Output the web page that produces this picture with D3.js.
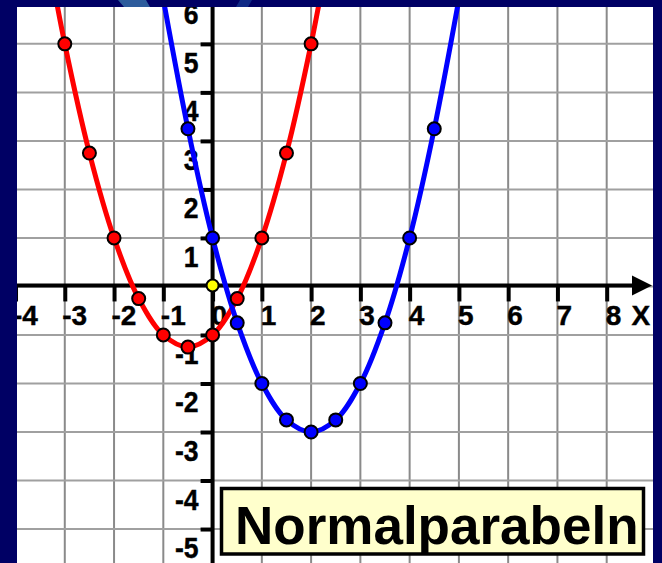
<!DOCTYPE html>
<html>
<head>
<meta charset="utf-8">
<script src="https://cdn.jsdelivr.net/npm/d3@7"></script>
<style>
  html, body { margin: 0; padding: 0; background: #000064; }
  svg { display: block; }
  .lbl { font-family: "Liberation Sans", Arial, sans-serif; font-weight: bold; }
</style>
</head>
<body>
<div id="chart"></div>
<script>
// tick labels
var xTicks = [-4, -3, -2, -1, 0, 1, 2, 3, 4, 5, 6, 7, 8];
var yTicks = [-5, -4, -3, -2, -1, 1, 2, 3, 4, 5, 6];

// red parabola, marked points
var redX = [-3, -2.5, -2, -1.5, -1, -0.5, 0, 0.5, 1, 1.5, 2];
var redY = [5, 2.75, 1, -0.25, -1, -1.25, -1, -0.25, 1, 2.75, 5];
// where the red curve leaves the top edge
var redEndsX = [-3.3, 2.3];
var redEndsY = [6.6, 6.6];

// blue parabola, marked points
var blueX = [-0.5, 0, 0.5, 1, 1.5, 2, 2.5, 3, 3.5, 4, 4.5];
var blueY = [3.25, 1, -0.75, -2, -2.75, -3, -2.75, -2, -0.75, 1, 3.25];
var blueEndsX = [-1.05, 5.05];
var blueEndsY = [6.2, 6.2];

// yellow origin point
var originX = [0];
var originY = [0];

var title = "Normalparabeln";

var width = 662,
    height = 563,
    plot = { left: 17, right: 653, top: 7, bottom: 563 },
    squeeze = 0.9; // y labels are a touch narrower than the font

var x = d3.scaleLinear().domain([-3.97, 8.94]).range([plot.left, plot.right]);
var y = d3.scaleLinear().domain([-5.7, 5.76]).range([plot.bottom, plot.top]);

var svg = d3.select("#chart").append("svg")
    .attr("width", width)
    .attr("height", height);

svg.append("defs").append("clipPath").attr("id", "plotclip")
    .append("rect")
    .attr("x", plot.left).attr("y", plot.top)
    .attr("width", plot.right - plot.left)
    .attr("height", plot.bottom - plot.top);

// navy slide background with a couple of faint streaks in the top band
svg.append("rect").attr("width", width).attr("height", height).attr("fill", "#000064");
svg.append("polygon").attr("points", "118,0 146,0 150,7 124,7").attr("fill", "#2d5c9c");
svg.append("polygon").attr("points", "240,0 252,0 248,7 236,7").attr("fill", "#102a86");

var g = svg.append("g").attr("clip-path", "url(#plotclip)");

g.append("rect")
    .attr("x", plot.left).attr("y", plot.top)
    .attr("width", plot.right - plot.left)
    .attr("height", plot.bottom - plot.top)
    .attr("fill", "#ffffff");

// grid
var gridX = d3.range(-4, 9);
var gridY = d3.range(-6, 7);
g.selectAll(".vgrid").data(gridX).enter().append("line")
    .attr("class", "vgrid")
    .attr("x1", function (d) { return x(d); })
    .attr("x2", function (d) { return x(d); })
    .attr("y1", plot.top).attr("y2", plot.bottom)
    .attr("stroke", "#8a8a8a").attr("stroke-width", 2);
g.selectAll(".hgrid").data(gridY).enter().append("line")
    .attr("class", "hgrid")
    .attr("y1", function (d) { return y(d); })
    .attr("y2", function (d) { return y(d); })
    .attr("x1", plot.left).attr("x2", plot.right)
    .attr("stroke", "#a0a0a0").attr("stroke-width", 2);

// x axis with ticks hanging below
var xAxisG = g.append("g")
    .attr("transform", "translate(0," + (y(0) - 1) + ")")
    .call(d3.axisBottom(x).tickValues(xTicks).tickSize(16).tickFormat(function (d) { return String(d); }));
xAxisG.select(".domain").remove();
xAxisG.selectAll(".tick line").attr("stroke", "#000").attr("stroke-width", 4);
xAxisG.selectAll(".tick text")
    .attr("class", "lbl")
    .attr("x", function (d) { return d < 0 ? -3 : -1.5; })
    .attr("y", 39.5).attr("dy", null)
    .attr("text-anchor", "start")
    .attr("font-size", 28)
    .attr("fill", "#000").attr("stroke", "#000").attr("stroke-width", 0.4);

// y axis with ticks to the left
var yAxisG = g.append("g")
    .attr("transform", "translate(" + x(0) + ",0)")
    .call(d3.axisLeft(y).tickValues(yTicks).tickSize(12).tickFormat(function (d) { return String(d); }));
yAxisG.select(".domain").remove();
yAxisG.selectAll(".tick line").attr("stroke", "#000").attr("stroke-width", 4);
yAxisG.selectAll(".tick text")
    .attr("class", "lbl")
    .attr("x", -14 / squeeze).attr("y", 28.5).attr("dy", null)
    .attr("transform", "scale(" + squeeze + ",1)")
    .attr("text-anchor", "end")
    .attr("font-size", 29.5)
    .attr("fill", "#000").attr("stroke", "#000").attr("stroke-width", 0.4);

// axis lines
g.append("line")
    .attr("x1", x(0)).attr("x2", x(0))
    .attr("y1", plot.top).attr("y2", plot.bottom)
    .attr("stroke", "#000").attr("stroke-width", 4);
g.append("line")
    .attr("x1", plot.left).attr("x2", plot.right - 12)
    .attr("y1", y(0) - 1).attr("y2", y(0) - 1)
    .attr("stroke", "#000").attr("stroke-width", 4);
var ay = y(0) - 1;
g.append("path")
    .attr("d", "M" + (plot.right - 1) + "," + ay + "L" + (plot.right - 21) + "," + (ay - 10) +
        "L" + (plot.right - 21) + "," + (ay + 10) + "Z")
    .attr("fill", "#000");
g.append("text")
    .attr("class", "lbl")
    .attr("x", 631.5).attr("y", 325)
    .attr("font-size", 28)
    .attr("fill", "#000").attr("stroke", "#000").attr("stroke-width", 0.4)
    .text("X");

// curves
var line = d3.line()
    .x(function (d) { return x(d[0]); })
    .y(function (d) { return y(d[1]); })
    .curve(d3.curveCatmullRom.alpha(0.5));

function series(xs, ys, ex, ey) {
    var pts = xs.map(function (v, i) { return [v, ys[i]]; });
    return [[ex[0], ey[0]]].concat(pts, [[ex[1], ey[1]]]);
}

var redPts = redX.map(function (v, i) { return [v, redY[i]]; });
var bluePts = blueX.map(function (v, i) { return [v, blueY[i]]; });

g.append("path")
    .datum(series(redX, redY, redEndsX, redEndsY))
    .attr("d", line)
    .attr("fill", "none").attr("stroke", "#ff0000").attr("stroke-width", 5);
g.append("path")
    .datum(series(blueX, blueY, blueEndsX, blueEndsY))
    .attr("d", line)
    .attr("fill", "none").attr("stroke", "#0000ff").attr("stroke-width", 5);

function dots(data, color, r) {
    g.append("g").selectAll("circle").data(data).enter().append("circle")
        .attr("cx", function (d) { return x(d[0]); })
        .attr("cy", function (d) { return y(d[1]); })
        .attr("r", r)
        .attr("fill", color)
        .attr("stroke", "#000").attr("stroke-width", 2);
}
dots(redPts, "#ff0000", 6.5);
dots(bluePts, "#0000ff", 6.5);
dots(originX.map(function (v, i) { return [v, originY[i] + 0.02]; }), "#ffff00", 6);

// title box
g.append("rect")
    .attr("x", 221.5).attr("y", 488.5)
    .attr("width", 422).attr("height", 65.5)
    .attr("fill", "#ffffcc")
    .attr("stroke", "#000").attr("stroke-width", 3.5);
g.append("text")
    .attr("x", 235).attr("y", 544)
    .attr("font-family", "'Liberation Sans', Arial, sans-serif")
    .attr("font-weight", "bold")
    .attr("font-size", 53)
    .attr("fill", "#000")
    .text(title);
</script>
</body>
</html>
